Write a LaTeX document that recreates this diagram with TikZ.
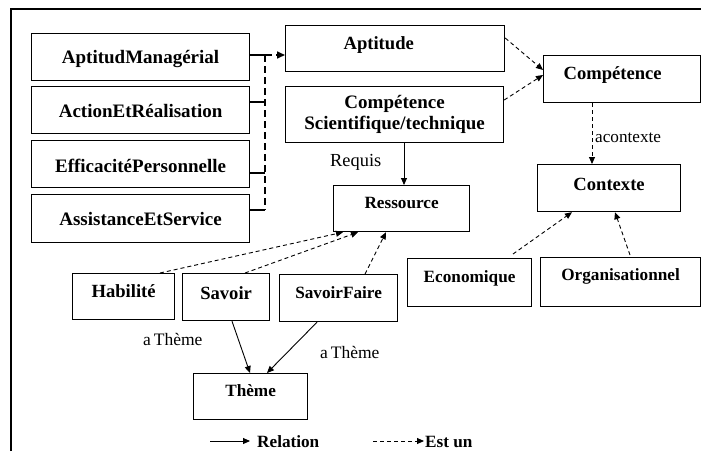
\documentclass[tikz,border=0pt]{standalone}
\usepackage{fontspec}
\setmainfont{Liberation Serif}
\usetikzlibrary{calc,arrows.meta}
\tikzset{
  box/.style={draw, line width=1.2pt, inner sep=0pt, anchor=north west,
    font=\fontsize{18.6}{22}\selectfont\bfseries},
  bigbox/.style={box, font=\fontsize{19}{22}\selectfont\bfseries},
  smallbox/.style={box, font=\fontsize{17.2}{20}\selectfont\bfseries},
  lbl/.style={inner sep=0pt, anchor=base west, font=\fontsize{17.5}{20}\selectfont},
  rel/.style={line width=0.9pt, -{Triangle[length=7pt,width=6pt]}},
  isa/.style={line width=0.9pt, dash pattern=on 4pt off 3pt, -{Triangle[length=7pt,width=6pt]}},
  grp/.style={line width=1.6pt, dash pattern=on 7pt off 4pt},
  stub/.style={line width=1.2pt}
}
\begin{document}
\begin{tikzpicture}[x=1pt,y=-1pt]
\useasboundingbox (0,0) rectangle (701,451);
% frame
\draw[line width=1.2pt] (11,451) -- (11,9) -- (701,9);
% left group
\node[bigbox, minimum width=218pt, text height=30pt, text depth=17pt] (am) at (31,33) {AptitudManagérial};
\node[bigbox, minimum width=218pt, text height=31pt, text depth=16pt] (ar) at (31,86) {ActionEtRéalisation};
\node[bigbox, minimum width=218pt, text height=32pt, text depth=15pt] (ep) at (31,140) {EfficacitéPersonnelle};
\node[bigbox, minimum width=218pt, text height=31pt, text depth=17pt] (as) at (31,194) {AssistanceEtService};
% top middle
\node[box, text width=219pt, align=left, text height=24pt, text depth=22pt] (apt) at (285,25) {\hspace*{58pt}Aptitude};
\node[bigbox, minimum width=218pt, minimum height=56pt, align=center] (cs) at (285,86) {Compétence\\[-1pt]Scientifique/technique};
\node[box, text width=157pt, align=left, text height=24pt, text depth=23pt] (comp) at (543,55) {\hspace*{20pt}Compétence};
\node[box, minimum width=143pt, text height=26pt, text depth=21pt] (ctx) at (537,164) {Contexte};
\node[smallbox, minimum width=136pt, text height=23pt, text depth=23pt] (res) at (333,185) {Ressource};
% bottom row
\node[box, minimum width=102pt, text height=24pt, text depth=22pt] (hab) at (72,273) {Habilité};
\node[box, minimum width=87pt, text height=26pt, text depth=21pt] (sav) at (182,273) {Savoir};
\node[smallbox, minimum width=118pt, text height=24pt, text depth=23pt] (sf) at (279,274) {SavoirFaire};
\node[smallbox, minimum width=124pt, text height=24pt, text depth=24pt] (eco) at (407,258) {Economique};
\node[smallbox, minimum width=160pt, text height=23pt, text depth=26pt] (org) at (540,257) {Organisationnel};
\node[smallbox, minimum width=114pt, text height=23pt, text depth=23pt] (the) at (193,373) {Thème};
% labels
\node[lbl, font=\fontsize{18.4}{20}\selectfont] (rq) at (330,166) {Requis};
\node[lbl, font=\fontsize{17.2}{20}\selectfont] (ac) at (595,142) {acontexte};
\node[lbl] (at1) at (143,345) {a\,Thème};
\node[lbl] (at2) at (320,358) {a\,Thème};
% group connector
\coordinate (j1) at (265,55);
\coordinate (j2) at (265,102);
\coordinate (j3) at (265,173);
\coordinate (j4) at (265,210);
\draw[stub] (am.east |- j1) -- (j1);
\draw[stub] (ar.east |- j2) -- (j2);
\draw[stub] (ep.east |- j3) -- (j3);
\draw[stub] (as.east |- j4) -- (j4);
\draw[grp] (j1) -- (j4);
\draw[grp, -{Triangle[length=8pt,width=7pt]}] (j1) -- (apt.west |- j1);
% est-un links
\draw[isa] ($(apt.north east)+(0,13)$) -- ($(comp.north west)+(0,15)$);
\draw[isa] ($(cs.north east)+(0,14)$) -- ($(comp.north west)+(0,20)$);
\draw[isa] ($(comp.south west)+(49,0)$) -- ($(ctx.north west)+(55,0)$);
\draw[isa] ($(hab.north west)+(88,0)$) -- ($(res.south west)+(10,0)$);
\draw[isa] ($(sav.north west)+(63,0)$) -- ($(res.south west)+(25,0)$);
\draw[isa] ($(sf.north west)+(86,0)$) -- ($(res.south west)+(53,0)$);
\draw[isa] ($(eco.north west)+(106,-4)$) -- ($(ctx.south west)+(35,0)$);
\draw[isa] ($(org.north west)+(90,-2)$) -- ($(ctx.south west)+(78,0)$);
% relations
\draw[rel] ($(cs.south west)+(119,0)$) -- ($(res.north west)+(71,0)$);
\draw[rel] ($(sav.south west)+(50,0)$) -- ($(the.north west)+(57,0)$);
\draw[rel] ($(sf.south west)+(38,0)$) -- ($(the.north west)+(74,0)$);
% legend
\coordinate (r1) at (210,441);
\coordinate (r2) at (250,441);
\coordinate (e1) at (373,441);
\coordinate (e2) at (424,441);
\draw[rel] (r1) -- (r2);
\draw[isa] (e1) -- (e2);
\node[lbl, font=\fontsize{17.2}{20}\selectfont\bfseries] (lr) at (257,447) {Relation};
\node[lbl, font=\fontsize{17.2}{20}\selectfont\bfseries] (le) at (425,447) {Est un};
\end{tikzpicture}
\end{document}
